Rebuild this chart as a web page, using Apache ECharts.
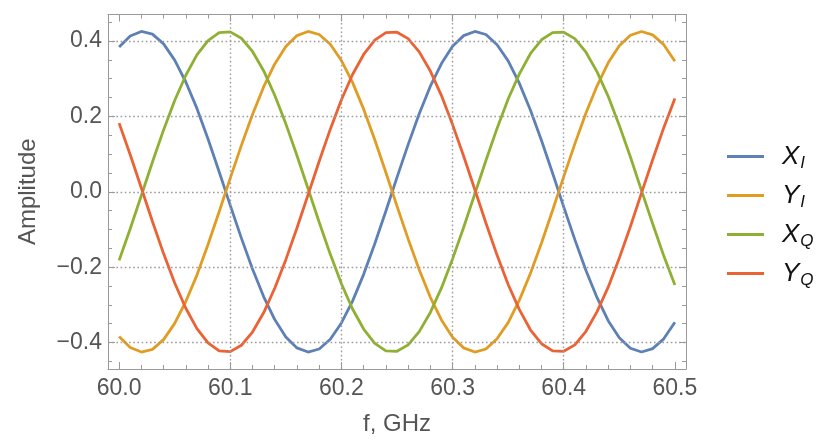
<!DOCTYPE html>
<html><head><meta charset="utf-8">
<script src="https://cdn.jsdelivr.net/npm/echarts@6/dist/echarts.min.js"></script>
<style>html,body{margin:0;padding:0;background:#fff}#c{width:816px;height:441px}</style>
</head><body><div id="c"></div>
<script>
const freq = [60.00,60.01,60.02,60.03,60.04,60.05,60.06,60.07,60.08,60.09,
  60.10,60.11,60.12,60.13,60.14,60.15,60.16,60.17,60.18,60.19,
  60.20,60.21,60.22,60.23,60.24,60.25,60.26,60.27,60.28,60.29,
  60.30,60.31,60.32,60.33,60.34,60.35,60.36,60.37,60.38,60.39,
  60.40,60.41,60.42,60.43,60.44,60.45,60.46,60.47,60.48,60.49,60.50];
const XI = [0.384,0.413,0.425,0.418,0.392,0.349,0.291,0.221,0.140,0.053,
  -0.036,-0.123,-0.205,-0.278,-0.339,-0.385,-0.414,-0.425,-0.417,-0.391,
  -0.348,-0.290,-0.219,-0.138,-0.051,0.038,0.125,0.207,0.280,0.340,
  0.386,0.414,0.425,0.417,0.390,0.347,0.288,0.217,0.136,0.049,
  -0.040,-0.127,-0.209,-0.281,-0.342,-0.387,-0.415,-0.425,-0.416,-0.390,-0.346];
const YI = [-0.384,-0.413,-0.425,-0.418,-0.392,-0.349,-0.291,-0.221,-0.140,-0.053,
  0.036,0.123,0.205,0.278,0.339,0.385,0.414,0.425,0.417,0.391,
  0.348,0.290,0.219,0.138,0.051,-0.038,-0.125,-0.207,-0.280,-0.340,
  -0.386,-0.414,-0.425,-0.417,-0.390,-0.347,-0.288,-0.217,-0.136,-0.049,
  0.040,0.127,0.209,0.281,0.342,0.387,0.415,0.425,0.416,0.390,0.346];
const XQ = [-0.182,-0.098,-0.010,0.079,0.164,0.242,0.309,0.363,0.401,0.422,
  0.424,0.407,0.372,0.321,0.256,0.180,0.096,0.008,-0.081,-0.166,
  -0.244,-0.311,-0.364,-0.402,-0.422,-0.423,-0.406,-0.371,-0.320,-0.255,
  -0.178,-0.094,-0.006,0.083,0.168,0.246,0.312,0.366,0.403,0.422,
  0.423,0.406,0.370,0.318,0.253,0.176,0.092,0.003,-0.085,-0.170,-0.247];
const YQ = [0.182,0.098,0.010,-0.079,-0.164,-0.242,-0.309,-0.363,-0.401,-0.422,
  -0.424,-0.407,-0.372,-0.321,-0.256,-0.180,-0.096,-0.008,0.081,0.166,
  0.244,0.311,0.364,0.402,0.422,0.423,0.406,0.371,0.320,0.255,
  0.178,0.094,0.006,-0.083,-0.168,-0.246,-0.312,-0.366,-0.403,-0.422,
  -0.423,-0.406,-0.370,-0.318,-0.253,-0.176,-0.092,-0.003,0.085,0.170,0.247];

const seriesNames = ['XI','YI','XQ','YQ'];
const seriesLabels = {XI:['X','I'], YI:['Y','I'], XQ:['X','Q'], YQ:['Y','Q']};
const seriesColors = ['#5E81B5','#E19C24','#8FB032','#EB6235'];
const xMajor = [60.0,60.1,60.2,60.3,60.4,60.5];
const xMinor = [60.02,60.04,60.06,60.08,60.12,60.14,60.16,60.18,60.22,60.24,60.26,60.28,
  60.32,60.34,60.36,60.38,60.42,60.44,60.46,60.48];
const yMajor = [-0.4,-0.2,0.0,0.2,0.4];
const yMinor = [-0.45,-0.35,-0.3,-0.25,-0.15,-0.1,-0.05,0.05,0.1,0.15,0.25,0.3,0.35,0.45];
const xGrid = [60.1,60.2,60.3,60.4];
const yGrid = [-0.4,-0.2,0.0,0.2,0.4];

const axisColor = '#999999';
const labelColor = '#555555';
const FONT = 'Liberation Sans';

function fmtNum(v){ const s = Math.abs(v).toFixed(1); return (v < -1e-9 ? '\u2212' : '') + s; }

function mkX(pos, ticks, len, withLine, withLabels){
  const ax = {type:'value', min:59.99, max:60.51, position:pos, gridIndex:0,
    axisLine:{show:withLine, onZero:false, lineStyle:{color:axisColor,width:1}},
    axisTick:{show:true, inside:true, length:len, customValues:ticks, lineStyle:{color:axisColor,width:1}},
    axisLabel:{show:withLabels},
    splitLine:{show:false}};
  if (withLabels){
    ax.axisLabel = {show:true, customValues:ticks, formatter:fmtNum, margin:8,
      color:labelColor, fontSize:23, fontFamily:FONT};
    ax.name = 'f, GHz'; ax.nameLocation = 'middle'; ax.nameGap = 43;
    ax.nameTextStyle = {color:labelColor, fontSize:24, fontFamily:FONT};
  }
  return ax;
}
function mkY(pos, ticks, len, withLine, withLabels){
  const ax = {type:'value', min:-0.47, max:0.47, position:pos, gridIndex:0,
    axisLine:{show:withLine, onZero:false, lineStyle:{color:axisColor,width:1}},
    axisTick:{show:true, inside:true, length:len, customValues:ticks, lineStyle:{color:axisColor,width:1}},
    axisLabel:{show:withLabels},
    splitLine:{show:false}};
  if (withLabels){
    ax.axisLabel = {show:true, customValues:ticks, formatter:fmtNum, margin:6,
      color:labelColor, fontSize:23, fontFamily:FONT};
    ax.name = 'Amplitude'; ax.nameLocation = 'middle'; ax.nameGap = 68;
    ax.nameTextStyle = {color:labelColor, fontSize:24, fontFamily:FONT};
  }
  return ax;
}

const legendCenters = [157, 196, 235, 274];
const legends = seriesNames.map((n, i) => ({
  data:[{name:n, icon:'rect'}], orient:'vertical', left:727, top:legendCenters[i]-16, padding:0,
  itemWidth:37, itemHeight:3,
  formatter: name => '{v|' + seriesLabels[name][0] + '}{s|' + seriesLabels[name][1] + '}',
  textStyle:{rich:{
    v:{fontSize:26, fontStyle:'italic', fontFamily:FONT, color:'#111', lineHeight:32, padding:[0,0,0,13]},
    s:{fontSize:17, fontStyle:'italic', fontFamily:FONT, color:'#111', lineHeight:18, padding:[14,0,0,1]}
  }}
}));

const series = seriesNames.map((n, i) => {
  const vals = {XI, YI, XQ, YQ}[n];
  return {name:n, type:'line', xAxisIndex:0, yAxisIndex:0, z:3,
    data: freq.map((f, k) => [f, vals[k]]),
    symbol:'none', showSymbol:false, smooth:false,
    lineStyle:{color:seriesColors[i], width:2.8}, itemStyle:{color:seriesColors[i]}};
});
series.unshift({name:'grid', type:'line', xAxisIndex:0, yAxisIndex:0, z:1, data:[], silent:true,
  markLine:{silent:true, symbol:['none','none'], label:{show:false}, animation:false,
    lineStyle:{type:[1.6,2.6], color:'#9c9c9c', width:1.4, cap:'butt'},
    emphasis:{disabled:true},
    data: xGrid.map(v => ({xAxis:v})).concat(yGrid.map(v => ({yAxis:v})))}});

const chart = echarts.init(document.getElementById('c'), null, {renderer:'canvas'});
chart.setOption({
  animation:false,
  backgroundColor:'#ffffff',
  grid:{left:108, right:130, top:14.5, bottom:70, containLabel:false},
  xAxis:[mkX('bottom', xMajor, 7, true, true), mkX('bottom', xMinor, 4, false, false),
         mkX('top', xMajor, 7, true, false), mkX('top', xMinor, 4, false, false)],
  yAxis:[mkY('left', yMajor, 7, true, true), mkY('left', yMinor, 4, false, false),
         mkY('right', yMajor, 7, true, false), mkY('right', yMinor, 4, false, false)],
  legend: legends,
  series: series
});
</script></body></html>
